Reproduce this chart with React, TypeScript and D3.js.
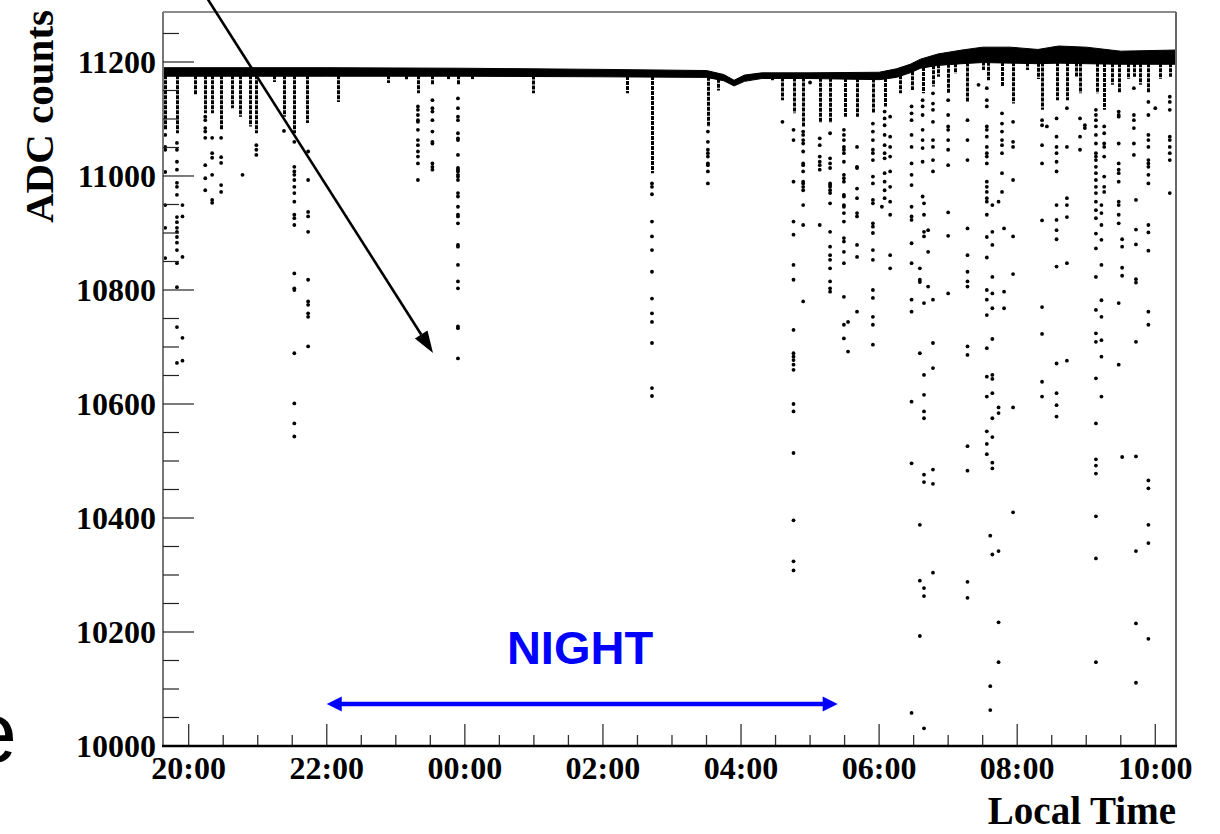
import React from 'react';
import * as d3 from 'd3';

// ---- Data (hours: 20 = 20:00, 24 = 00:00, 34 = 10:00) ----
const bandHours = [19.63, 22, 24, 26, 27.5, 27.75, 27.9, 28.05, 28.3, 29, 30, 30.25, 30.45, 30.6, 30.85, 31.2, 31.5, 31.9, 32.3, 32.6, 33, 33.5, 34.3];
const bandTop = [11190, 11190, 11189, 11187, 11185, 11178, 11168, 11177, 11181, 11181, 11182, 11188, 11196, 11205, 11214, 11221, 11226, 11226, 11222, 11228, 11226, 11219, 11221];
const bandBottom = [11175, 11175, 11175, 11174, 11173, 11167, 11158, 11166, 11171, 11171, 11169, 11173, 11181, 11189, 11194, 11197, 11199, 11198, 11197, 11198, 11197, 11196, 11196];

// dense streaks under the baseline: [hour, lowest value of the dense part]
const stems: [number, number][] = [
  [19.66, 11081], [19.83, 11075], [20.09, 11142], [20.24, 11110], [20.34, 11110], [20.47, 11081],
  [20.63, 11119], [20.74, 11104], [20.89, 11087], [20.98, 11075], [21.24, 11165], [21.38, 11104],
  [21.53, 11075], [21.71, 11093], [22.16, 11130], [22.89, 11163], [23.15, 11168], [23.32, 11145],
  [23.53, 11160], [23.76, 11170], [23.9, 11160], [24.1, 11170], [24.99, 11145], [26.35, 11145],
  [26.71, 11005], [27.52, 11086], [27.67, 11150], [28.45, 11168], [28.6, 11133], [28.76, 11110],
  [28.9, 11086], [29.14, 11093], [29.29, 11093], [29.51, 11104], [29.68, 11104], [29.91, 11110],
  [30.08, 11122], [30.3, 11145], [30.47, 11151], [30.63, 11145], [30.78, 11157], [30.86, 11174],
  [31.0, 11145], [31.1, 11180], [31.28, 11130], [31.5, 11186], [31.58, 11168], [31.78, 11157],
  [31.94, 11127], [32.14, 11186], [32.3, 11170], [32.36, 11116], [32.57, 11133], [32.72, 11133],
  [32.85, 11174], [32.91, 11145], [33.15, 11145], [33.26, 11116], [33.38, 11160], [33.48, 11145],
  [33.6, 11170], [33.69, 11174], [33.78, 11160], [33.9, 11145], [34.07, 11170], [34.21, 11174],
];

const eveningDots: [number, number[]][] = [
  [19.66, [11072, 11051, 11046, 11007, 10949, 10909, 10856]],
  [19.83, [11058, 11046, 11025, 11011, 10988, 10981, 10967, 10928, 10919, 10909, 10902, 10893, 10883, 10870, 10847, 10805, 10735, 10672]],
  [19.91, [10949, 10929, 10858, 10716, 10676]],
  [20.24, [11104, 11098, 11084, 11078, 11067, 11019, 10996, 10975]],
  [20.34, [11067, 11040, 11032, 11002, 10958, 10953]],
  [20.47, [11067, 11033, 11023, 10984, 10972]],
  [20.78, [11002]],
  [20.98, [11054, 11046, 11037]],
  [21.38, [11079]],
  [21.53, [11060, 11016, 11008, 11002, 10993, 10981, 10970, 10955, 10932, 10926, 10914, 10829, 10803, 10800, 10689, 10601, 10566, 10543]],
  [21.73, [11043, 10993, 10937, 10929, 10902, 10818, 10780, 10774, 10759, 10753, 10701]],
  [23.32, [11122, 11116, 11107, 11098, 11095, 11081, 11063, 11054, 11043, 11034, 11022, 10993]],
  [23.53, [11133, 11119, 11113, 11098, 11078, 11060, 11057, 11022, 11016, 11011]],
  [23.9, [11136, 11119, 11104, 11098, 11075, 11066, 11063, 11037, 11014, 11011, 11008, 11002, 10999, 10993, 10970, 10964, 10946, 10932, 10929, 10917, 10879, 10876, 10844, 10815, 10803, 10736, 10733, 10680]],
];

const nightDots: [number, number[]][] = [
  [26.71, [10987, 10981, 10968, 10920, 10894, 10870, 10832, 10785, 10759, 10744, 10707, 10628, 10614]],
  [27.52, [11078, 11060, 11046, 11040, 11034, 11022, 11019, 11008, 10987]],
  [28.6, [11095]],
  [28.76, [11081, 11063, 10990, 10920, 10897, 10844, 10818, 10730, 10689, 10683, 10677, 10669, 10660, 10600, 10587, 10514, 10396, 10324, 10308]],
  [28.9, [11078, 11072, 11063, 11057, 11043, 11022, 11019, 11008, 10990, 10987, 10981, 10975, 10949, 10914, 10780]],
  [29.0, [11164]],
  [29.14, [11066, 11054, 11034, 11025, 11019, 11011, 10914]],
  [29.29, [11075, 11031, 11022, 11014, 10987, 10984, 10981, 10975, 10970, 10952, 10902, 10876, 10861, 10853, 10838, 10815, 10803, 10797]],
  [29.49, [11081, 11072, 11063, 11051, 11046, 11040, 11025, 11002, 10996, 10990, 10967, 10964, 10949, 10946, 10935, 10920, 10891, 10885, 10867, 10847, 10788, 10739, 10715]],
  [29.55, [10744, 10692]],
  [29.68, [11051, 11016, 11014, 10978, 10961, 10935, 10929, 10879, 10858, 10762]],
  [29.91, [11092, 11078, 11063, 11046, 11040, 11028, 10999, 10987, 10958, 10952, 10917, 10911, 10900, 10870, 10853, 10800, 10786, 10753, 10739, 10704]],
];

const morningDots: [number, number[]][] = [
  [30.04, [10946]],
  [30.08, [11113, 11101, 11089, 11072, 11054, 11040, 11031, 11005, 10990, 10975, 10961]],
  [30.16, [11104, 11069, 11051, 11034, 11008, 10981, 10955, 10932, 10861, 10838]],
  [30.47, [11122, 11110, 11098, 11072, 11051, 11022, 11002, 10984, 10946, 10929, 10923, 10882, 10847, 10783, 10762, 10604, 10496, 10058]],
  [30.59, [10838, 10818, 10814, 10689, 10388, 10290, 10193]],
  [30.63, [11133, 11122, 11107, 11081, 11063, 11049, 11025, 10964]],
  [30.65, [10952, 10932, 10902, 10894, 10777, 10651, 10616, 10587, 10575, 10476, 10463, 10277, 10263, 10031]],
  [30.71, [10905, 10867, 10806]],
  [30.78, [11145, 11127, 11116, 11095, 11063, 11051, 11028, 11008, 10783, 10707, 10663, 10485, 10460, 10304]],
  [31.0, [11133, 11107, 11087, 11081, 11063, 11046, 11019, 10936, 10895, 10794]],
  [31.28, [11098, 11063, 11028, 10908, 10861, 10832, 10815, 10806, 10701, 10686, 10526, 10483, 10288, 10260]],
  [31.44, [11160]],
  [31.56, [11154, 11133, 11122, 11087, 11081, 11069, 11051, 11040, 11034, 11022, 10990, 10981, 10972, 10961, 10955, 10932, 10893, 10857, 10800, 10783, 10756, 10698, 10648, 10613, 10552, 10530, 10512]],
  [31.61, [10369, 10105, 10063]],
  [31.64, [10949, 10902, 10879, 10823, 10794, 10768, 10714, 10651, 10644, 10619, 10575, 10542, 10497, 10487, 10336]],
  [31.73, [10955, 10594, 10584, 10342, 10217, 10147]],
  [31.78, [11110, 11092, 11078, 11063, 11054, 11040, 11005, 10972]],
  [31.81, [10908, 10797, 10768]],
  [31.94, [11095, 11060, 11051, 10993, 10894, 10828, 10594, 10410]],
  [32.36, [11098, 11089, 11054, 11022, 10922, 10770, 10723, 10639, 10613]],
  [32.43, [11087]],
  [32.57, [11101, 11069, 11051, 11040, 11025, 11008, 10949, 10923, 10905, 10889, 10841, 10671, 10619, 10598, 10578]],
  [32.72, [11119, 11051, 10961, 10949, 10928, 10847, 10676]],
  [32.91, [11101, 11069, 11046]],
  [32.98, [11089, 11084]],
  [33.14, [11116, 11107, 11098, 11087, 11072, 11057, 11040, 11034, 11028, 11016, 11005, 10993, 10981, 10970, 10955, 10940, 10926, 10899, 10873, 10823, 10765, 10724, 10709, 10645, 10566, 10503, 10492, 10478, 10403, 10329, 10147]],
  [33.22, [10949, 10935, 10914, 10888, 10844, 10782, 10753, 10712, 10683, 10613]],
  [33.26, [11087, 11075, 11057, 11051, 11034, 10999, 10981, 10972]],
  [33.47, [11113, 11107, 11104, 11057, 11022, 11011, 11005, 10990, 10955, 10949, 10932, 10917, 10777, 10669]],
  [33.52, [10889, 10876, 10839, 10825, 10507]],
  [33.69, [11154, 11107, 11098, 11084, 11057, 11037]],
  [33.72, [10958, 10906, 10880, 10819, 10813, 10709, 10508, 10342, 10215, 10111]],
  [33.9, [11130, 11107, 11072, 11063, 11051, 11028, 11022, 11016, 11002, 10987, 10914, 10901, 10869, 10762, 10739, 10466, 10452, 10388, 10356, 10188]],
  [34.0, [11119]],
  [34.21, [11139, 11130, 11116, 11069, 11063, 11051, 11040, 11028, 10970]],
];

const yMajorTicks = [10000, 10200, 10400, 10600, 10800, 11000, 11200];
const xMajorTicks = [20, 22, 24, 26, 28, 30, 32, 34];
const xTickLabels = ['20:00', '22:00', '00:00', '02:00', '04:00', '06:00', '08:00', '10:00'];
const nightStart = 22.0;
const nightEnd = 29.4;

const W = 1220;
const H = 834;
const L = 163, R = 1176, T = 12, B = 746;
const SERIF = '"Liberation Serif", "Times New Roman", serif';
const SANS = '"Liberation Sans", Arial, sans-serif';

export default function App() {
  const x = d3.scaleLinear().domain([19.628, 34.3]).range([L, R]);
  const y = d3.scaleLinear().domain([10000, 11287.7]).range([B, T]);
  const bandLow = d3.scaleLinear().domain(bandHours).range(bandBottom);

  const area = d3
    .area<number>()
    .x((i) => x(bandHours[i]))
    .y0((i) => y(bandBottom[i]))
    .y1((i) => y(bandTop[i]));
  const bandPath = area(d3.range(bandHours.length)) || '';

  const yMinor = d3.range(10050, 11260, 50).filter((v) => v % 200 !== 0);
  const xMinor = d3.range(20, 34.31, 0.5).filter((h) => h % 2 !== 0);

  const allDots = [...eveningDots, ...nightDots, ...morningDots];

  // black annotation arrow
  const ax0 = 207, ay0 = -2, ax1 = 433, ay1 = 353;
  const len = Math.hypot(ax1 - ax0, ay1 - ay0);
  const ux = (ax1 - ax0) / len, uy = (ay1 - ay0) / len;
  const hl = 22, hw = 7.5;
  const bx = ax1 - ux * hl, by = ay1 - uy * hl;

  const nx0 = x(nightStart), nx1 = x(nightEnd), ny = 704;

  return (
    <svg width={W} height={H} style={{ position: 'absolute', left: 0, top: 0, background: '#fff' }}>
      <rect x={0} y={0} width={W} height={H} fill="#fff" />

      {/* baseline band */}
      <path d={bandPath} fill="#000" stroke="#000" strokeWidth={1} />

      {/* dense streaks */}
      {stems.map(([h, v], i) => (
        <line
          key={'s' + i}
          x1={Math.round(x(h)) + 0.5}
          x2={Math.round(x(h)) + 0.5}
          y1={y(bandLow(h)) - 1}
          y2={y(v)}
          stroke="#000"
          strokeWidth={3}
          strokeDasharray="4 1"
        />
      ))}

      {/* individual readings */}
      {allDots.map(([h, vals], i) =>
        vals.map((v, j) => <circle key={'d' + i + '-' + j} cx={x(h)} cy={y(v)} r={1.9} fill="#000" />)
      )}

      {/* frame */}
      <line x1={L} x2={R} y1={T} y2={T} stroke="#666" strokeWidth={1.5} />
      <line x1={R} x2={R} y1={T} y2={B} stroke="#666" strokeWidth={2} />
      <line x1={L} x2={L} y1={T} y2={B} stroke="#777" strokeWidth={2} />

      {/* y ticks */}
      {yMajorTicks.map((v) => (
        <g key={'ym' + v}>
          <line x1={L} x2={L + 31} y1={y(v)} y2={y(v)} stroke="#222" strokeWidth={1.2} />
          <text x={156} y={y(v)} dy="0.35em" textAnchor="end" fontFamily={SERIF} fontWeight="bold" fontSize={32} fill="#000">
            {v}
          </text>
        </g>
      ))}
      {yMinor.map((v) => (
        <line key={'yn' + v} x1={L} x2={L + 16} y1={y(v)} y2={y(v)} stroke="#222" strokeWidth={1.2} />
      ))}

      {/* x ticks */}
      {xMajorTicks.map((h, i) => (
        <g key={'xm' + h}>
          <line x1={x(h)} x2={x(h)} y1={B} y2={B - 22} stroke="#333" strokeWidth={1.3} />
          <text x={x(h)} y={779} textAnchor="middle" fontFamily={SERIF} fontWeight="bold" fontSize={32} fill="#000">
            {xTickLabels[i]}
          </text>
        </g>
      ))}
      {xMinor.map((h) => (
        <line key={'xn' + h} x1={x(h)} x2={x(h)} y1={B} y2={B - 11} stroke="#333" strokeWidth={1.3} />
      ))}
      <line x1={L - 1} x2={R + 1} y1={B} y2={B} stroke="#000" strokeWidth={2.5} />

      {/* axis titles */}
      <text x={R} y={824} textAnchor="end" fontFamily={SERIF} fontWeight="bold" fontSize={39} fill="#000">
        Local Time
      </text>
      <text
        transform={`translate(53, 10) rotate(-90)`}
        textAnchor="end"
        fontFamily={SERIF}
        fontWeight="bold"
        fontSize={41}
        fill="#000"
      >
        ADC counts
      </text>

      {/* black arrow */}
      <line x1={ax0} y1={ay0} x2={bx} y2={by} stroke="#000" strokeWidth={2.6} />
      <polygon
        points={`${ax1},${ay1} ${bx - uy * hw},${by + ux * hw} ${bx + uy * hw},${by - ux * hw}`}
        fill="#000"
      />

      {/* NIGHT annotation */}
      <text x={580} y={664} textAnchor="middle" fontFamily={SANS} fontWeight="bold" fontSize={47} fill="#0000ff">
        NIGHT
      </text>
      <line x1={nx0 + 12} x2={nx1 - 12} y1={ny} y2={ny} stroke="#0000ff" strokeWidth={4.5} />
      <polygon points={`${nx0},${ny} ${nx0 + 15},${ny - 7.5} ${nx0 + 15},${ny + 7.5}`} fill="#0000ff" />
      <polygon points={`${nx1},${ny} ${nx1 - 15},${ny - 7.5} ${nx1 - 15},${ny + 7.5}`} fill="#0000ff" />

      {/* cut-off glyph at left edge (as in the source image) */}
      <text x={-31} y={762} fontFamily={SANS} fontSize={86} fill="#000">
        e
      </text>
    </svg>
  );
}
